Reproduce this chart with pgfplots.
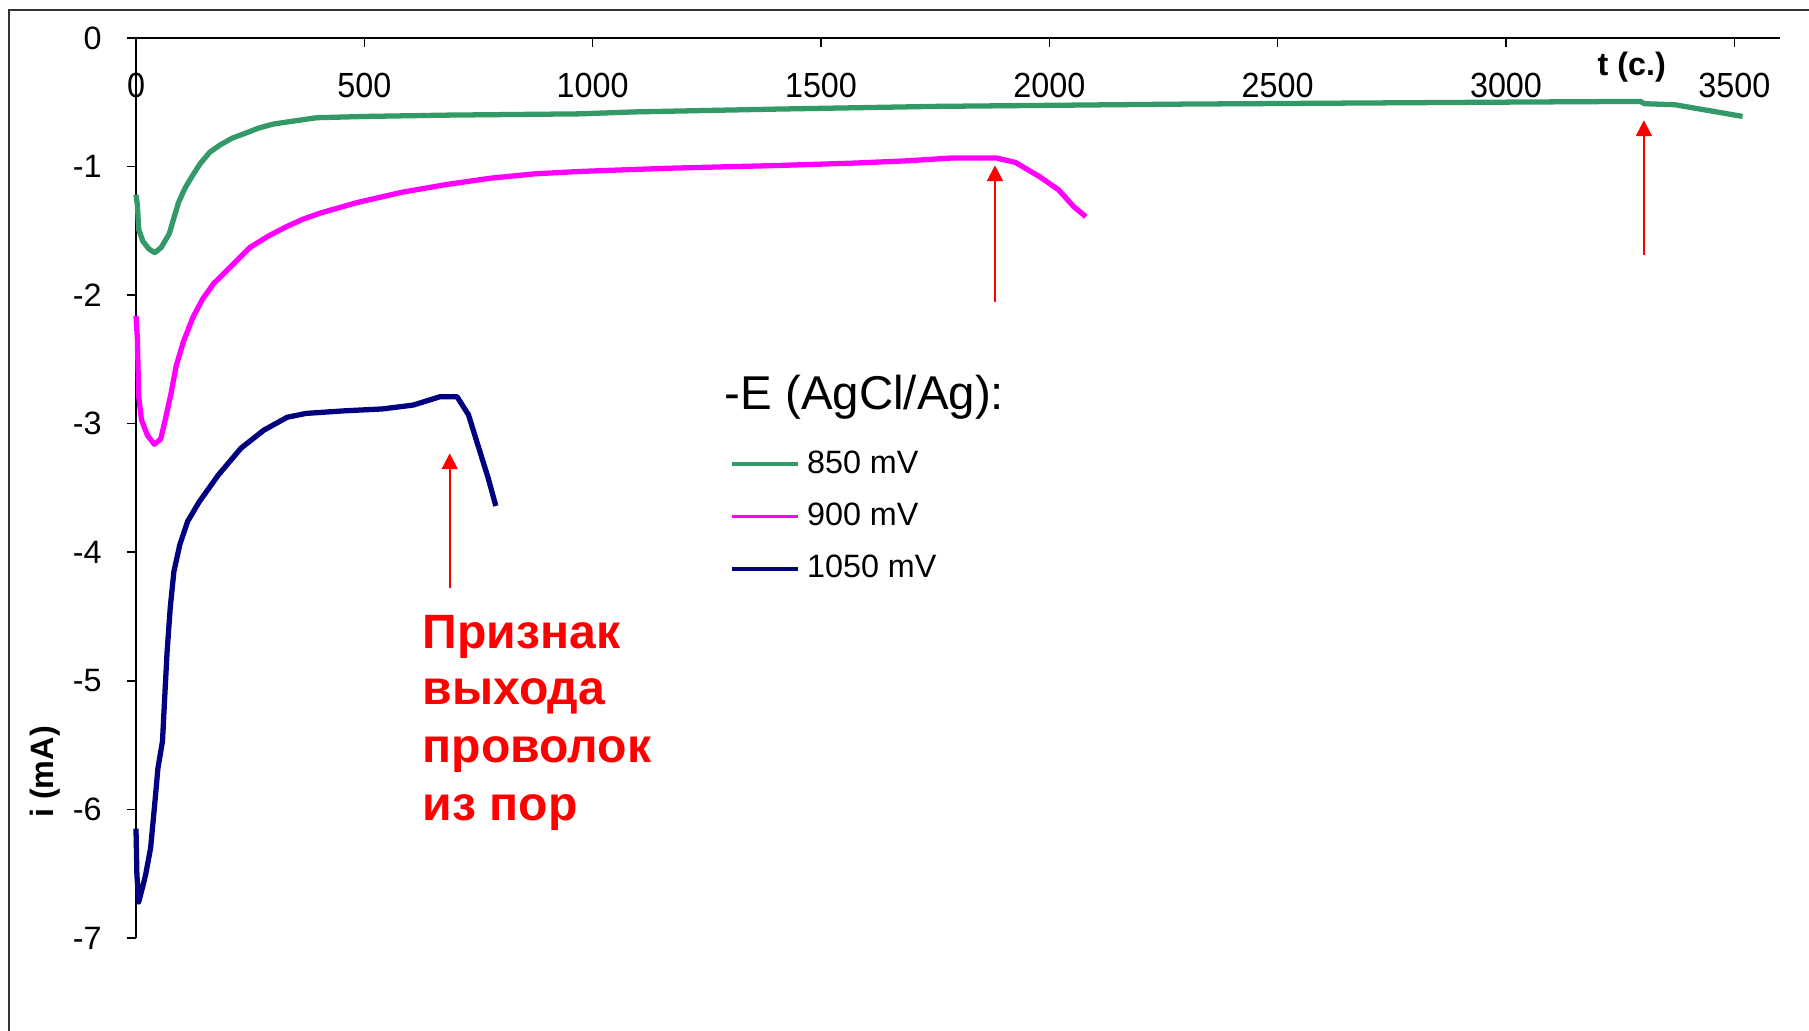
\documentclass[border=0pt]{standalone}
\usepackage{fontspec}
\setmainfont{Liberation Sans}
\usepackage{pgfplots}
\pgfplotsset{compat=1.18}
\usetikzlibrary{arrows.meta}
\definecolor{sgreen}{RGB}{51,153,102}
\definecolor{navyb}{RGB}{0,0,128}
\definecolor{magb}{RGB}{255,0,255}
\begin{document}
\begin{tikzpicture}
\useasboundingbox (0,0) rectangle (18.09cm,10.31cm);
\draw[black!80, line width=0.6pt] (0.09cm,-1cm) -- (0.09cm,10.21cm) -- (20cm,10.21cm);
\begin{axis}[
  at={(1.36cm,0.93cm)}, anchor=south west,
  scale only axis, width=16.44cm, height=9cm,
  xmin=0, xmax=3600, ymin=-7, ymax=0,
  axis x line=middle, axis y line=left,
  axis line style={line width=0.45pt, -},
  hide obscured x ticks=false, hide obscured y ticks=false,
  xtick={0,500,1000,1500,2000,2500,3000,3500},
  xticklabels={0,500,1000,1500,2000,2500,3000,3500},
  ytick={-7,-6,-5,-4,-3,-2,-1,0},
  yticklabels={-7,-6,-5,-4,-3,-2,-1,0},
  major tick length=2.7pt,
  xtick align=outside, ytick align=outside,
  tick style={line width=0.45pt, black},
  tick label style={font=\fontsize{9.2}{11}\selectfont},
  xticklabel style={anchor=base, yshift=-14.3pt, inner sep=0pt, yscale=1.08},
  yticklabel style={anchor=east, inner sep=0pt, xshift=-6.9pt},
  clip=false,
  legend style={draw=none, fill=none, at={(0.361,0.4683)}, anchor=west,
    font=\fontsize{9.2}{11}\selectfont, row sep=2.9pt, inner sep=0pt,
    cells={anchor=west}},
  legend image code/.code={\draw[#1, line width=1.1pt] (0cm,0cm) -- (0.66cm,0cm);},
]
\addplot[sgreen, line width=1.5pt, line join=round] coordinates {
(0,-1.22) (3,-1.30) (6,-1.49) (15,-1.58) (28,-1.64) (41,-1.67) (55,-1.63)
(65,-1.57) (73,-1.52) (83,-1.40) (93,-1.28) (107,-1.17) (122,-1.08) (140,-0.98)
(161,-0.89) (185,-0.83) (210,-0.78) (240,-0.74) (269,-0.70) (300,-0.67)
(337,-0.65) (396,-0.62) (504,-0.61) (680,-0.60) (972,-0.59) (1090,-0.575)
(1403,-0.553) (1749,-0.532) (2298,-0.514) (3040,-0.498) (3294,-0.493)
(3303,-0.511) (3370,-0.519) (3412,-0.545) (3463,-0.576) (3518,-0.61)
};
\addlegendentry{850 mV}
\addplot[magb, line width=1.5pt, line join=round] coordinates {
(0,-2.16) (3,-2.34) (6,-2.79) (12,-2.97) (25,-3.09) (40,-3.16) (54,-3.12)
(64,-2.97) (77,-2.76) (88,-2.55) (104,-2.36) (125,-2.17) (146,-2.03)
(170,-1.91) (210,-1.77) (249,-1.63) (290,-1.54) (328,-1.47) (365,-1.41)
(405,-1.36) (484,-1.28) (582,-1.20) (679,-1.14) (777,-1.09) (875,-1.056)
(972,-1.038) (1070,-1.025) (1176,-1.012) (1412,-0.991) (1572,-0.973)
(1690,-0.955) (1784,-0.934) (1885,-0.934) (1926,-0.968) (1978,-1.077)
(2020,-1.18) (2053,-1.31) (2080,-1.39)
};
\addlegendentry{900 mV}
\addplot[navyb, line width=1.5pt, line join=round] coordinates {
(0,-6.15) (2,-6.51) (6,-6.72) (14,-6.61) (21,-6.51) (32,-6.30) (42,-5.92)
(48,-5.68) (58,-5.47) (63,-5.12) (68,-4.78) (75,-4.43) (83,-4.15) (96,-3.94)
(113,-3.76) (138,-3.61) (180,-3.40) (230,-3.19) (280,-3.05) (331,-2.95)
(372,-2.92) (456,-2.90) (540,-2.885) (607,-2.855) (666,-2.79) (703,-2.79)
(728,-2.93) (749,-3.17) (771,-3.42) (788,-3.64)
};
\addlegendentry{1050 mV}
\draw[red, line width=0.6pt, -{Triangle[width=4.5pt,length=4.5pt]}] (axis cs:687,-4.28) -- (axis cs:687,-3.23);
\draw[red, line width=0.6pt, -{Triangle[width=4.5pt,length=4.5pt]}] (axis cs:1881,-2.05) -- (axis cs:1881,-0.99);
\draw[red, line width=0.6pt, -{Triangle[width=4.5pt,length=4.5pt]}] (axis cs:3302,-1.69) -- (axis cs:3302,-0.64);
\end{axis}
\node[anchor=base west, inner sep=0pt, font=\fontsize{13.5}{15}\selectfont] at (7.24cm,6.21cm) {-E (AgCl/Ag):};
\node[anchor=base west, inner sep=0pt, font=\fontsize{9.2}{11}\selectfont\bfseries] at (15.97cm,9.555cm) {t (c.)};
\node[anchor=base, rotate=90, inner sep=0pt, font=\fontsize{9.2}{11}\selectfont\bfseries] at (0.53cm,2.59cm) {i (mA)};
\begin{scope}[every node/.style={anchor=base west, inner sep=0pt, text=red, font=\fontsize{13.7}{16}\selectfont\bfseries}]
\node at (4.22cm,3.825cm) {Признак};
\node at (4.22cm,3.26cm) {выхода};
\node at (4.22cm,2.68cm) {проволок};
\node at (4.22cm,2.105cm) {из пор};
\end{scope}
\end{tikzpicture}
\end{document}
